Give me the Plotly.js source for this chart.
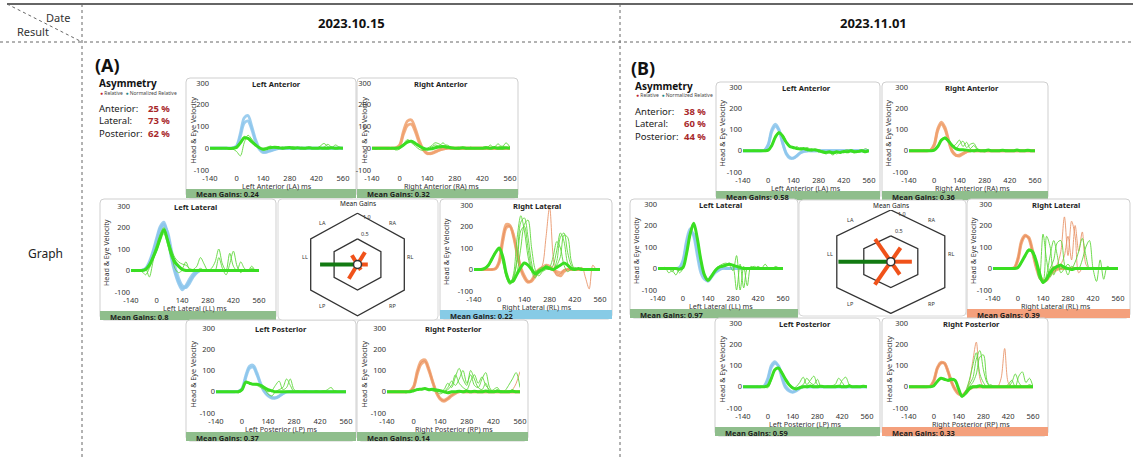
<!DOCTYPE html>
<html><head><meta charset="utf-8">
<script src="https://cdn.plot.ly/plotly-3.0.1.min.js"></script>
<style>html,body{margin:0;padding:0;background:#fff}#chart{width:1133px;height:458px}</style>
</head><body><div id="chart"></div>
<script>
// ---------------- DATA ----------------
const T = [-140,-120,-100,-80,-60,-40,-20,0,20,40,60,80,100,120,140,160,180,200,220,240,260,280,300,320,340,360,380,400,420,440,460,480,500,520,540,560];
const X_TICKS = [-140,0,140,280,420,560];
const Y_TICKS = [-100,0,100,200,300];
const DATES = ['2023.10.15','2023.11.01'];
const ASYM_LABELS = ['Anterior:','Lateral:','Posterior:'];
const ASYM_A = [25,73,62];
const ASYM_B = [38,60,44];
const HEX_LABELS = ['LA','RA','RL','RP','LP','LL'];
const GAINS_A = [0.24,0.32,0.22,0.14,0.37,0.8];
const GAINS_B = [0.58,0.36,0.39,0.33,0.59,0.97];

// (A) 2023.10.15
const A_LA_h1 = [0,0,0,0,0,0,2, 12,70,140,150,100,40,0,-15,-15,-10,-5, -2,0,0,0,0,0,0,0,0,0,0,0,0,0,0,0,0,0];
const A_LA_h2 = [0,0,0,0,0,0,1, 8,55,115,125,85,30,-5,-20,-18,-12,-6, -2,0,0,0,0,0,0,0,0,0,0,0,0,0,0,0,0,0];
const A_LA_em = [0,0,0,0,0,-1,0, 4,25,48,45,30,15,2,-5,-2,3,5, 3,0,2,3,0,2,0,0,2,0,0,1,0,0,2,0,1,0];
const A_LA_e1 = [2,-3,0,2,-2,0,-4, -15,-35,25,60,42,20,5,-8,0,8,2, -3,6,0,2,-2,4,0,-3,5,2,0,10,22,8,2,15,5,0];
const A_LA_e2 = [-2,2,0,-2,3,-2,3, 8,30,55,40,25,10,0,0,5,10,2, 5,-3,3,5,8,0,5,2,-2,3,0,2,5,18,5,-2,3,2];

const A_RA_h1 = [0,0,0,0,0,0,2, 15,80,125,130,90,35,-5,-22,-25,-18,-10, -4,0,0,0,0,0,0,0,0,0,0,0,0,0,0,0,0,0];
const A_RA_h2 = [0,0,0,0,0,0,1, 10,65,105,110,75,25,-8,-25,-22,-15,-8, -3,0,0,0,0,0,0,0,0,0,0,0,0,0,0,0,0,0];
const A_RA_em = [0,0,0,0,0,0,0, 3,15,28,32,22,10,0,-5,-3,2,6, 8,5,2,0,0,2,0,0,0,0,0,2,0,3,0,0,2,0];
const A_RA_e1 = [3,-5,2,0,-3,2,-8, -4,20,40,25,10,-5,-10,0,10,25,20, 10,15,5,0,-3,5,0,2,-2,0,3,8,0,5,20,5,25,5];
const A_RA_e2 = [-2,2,-3,3,0,-2,2, 5,10,35,30,20,5,0,-3,5,15,10, 25,8,0,2,5,0,-2,5,0,3,0,-2,15,0,5,10,2,0];

const A_LL_h1 = [0,0,0,0,10,40,90, 150,205,225,170,80,0,-50,-80,-75,-50,-25, -8,0,0,0,0,0,0,0,0,0,0,0,0,0,0,0,0,0];
const A_LL_h2 = [0,0,0,0,5,30,75, 130,185,210,180,100,20,-35,-70,-80,-60,-30, -10,0,0,0,0,0,0,0,0,0,0,0,0,0,0,0,0,0];
const A_LL_h3 = [0,0,0,2,8,35,80, 140,195,215,160,60,-10,-60,-90,-70,-40,-15, -5,0,0,0,0,0,0,0,0,0,0,0,0,0,0,0,0,0];
const A_LL_em = [0,0,0,0,5,25,60, 100,150,190,140,80,40,20,5,0,0,0, 0,0,0,0,0,0,0,0,0,0,0,0,0,0,0,0,0,0];
const A_LL_e1 = [0,-5,0,-5,-20,10,50, 90,140,195,150,100,60,40,30,25,10,5, 20,60,30,0,10,40,100,30,0,80,20,0,40,10,0,20,0,0];
const A_LL_e2 = [0,2,-3,0,10,-30,40, 110,160,170,120,60,30,20,10,40,5,0, 0,10,0,0,5,0,60,10,-20,30,90,20,-10,5,0,10,0,0];
const A_LL_e3 = [0,0,0,0,5,30,70, 120,170,200,150,80,10,-10,0,5,0,0, 0,0,0,0,0,0,0,0,0,0,0,0,0,0,0,0,0,0];

const A_RL_h1 = [0,0,0,0,0,0,5, 40,150,210,205,150,70,0,-40,-60,-50,-20, 0,10,20,15,0,-20,-30,-10,0,0,0,0,0,0,0,0,0,0];
const A_RL_h2 = [0,0,0,0,0,0,3, 30,130,195,200,160,80,10,-30,-55,-55,-30, -10,5,10,5,0,-10,-15,-5,0,0,0,0,0,0,0,0,0,0];
const A_RL_s1 = [0,0,0,0,0,0,4, 35,140,200,200,155,75,5,-35,-58,-50,-25, -5,20,150,290,60,-30,-20,0,0,0,0,0,10,-40,-90,20,0,0];
const A_RL_em = [0,0,0,5,20,50,80, 100,60,-20,-60,-50,-20,10,30,20,0,-20, -10,0,10,5,0,10,20,30,20,5,0,5,0,0,0,0,0,0];
const A_RL_e1 = [0,0,0,5,20,50,80, 95,40,-30,-60,-40,60,220,240,150,30,-30, -20,0,20,10,0,40,150,170,80,20,0,5,0,0,0,0,0,0];
const A_RL_e2 = [0,0,2,8,25,55,85, 90,30,-40,-70,-20,150,250,180,60,-10,-40, 0,10,5,0,20,90,170,130,30,0,10,0,5,0,0,0,0,0];
const A_RL_e3 = [0,0,0,4,15,40,75, 100,50,-20,-50,-60,-10,100,210,230,100,0, -30,-10,0,10,60,130,100,20,-10,0,0,0,0,0,0,0,0,0];
const A_RL_e4 = [0,0,0,5,20,45,80, 95,45,-25,-60,-30,40,180,200,100,10,-10, 0,0,5,0,0,20,60,160,150,40,0,0,0,0,0,0,0,0];

const A_LP_h1 = [0,0,0,0,0,0,2, 15,75,120,125,90,40,5,-15,-25,-28,-20, -8,0,0,0,0,0,0,0,0,0,0,0,0,0,0,0,0,0];
const A_LP_h2 = [0,0,0,0,0,0,1, 10,65,110,115,80,35,0,-20,-30,-30,-22, -10,-2,0,0,0,0,0,0,0,0,0,0,0,0,0,0,0,0];
const A_LP_em = [0,0,0,0,0,0,0, 10,45,40,35,35,30,20,10,5,0,0, 0,0,0,0,0,0,0,0,0,0,0,0,0,0,0,0,0,0];
const A_LP_e1 = [0,0,0,-2,0,0,-5, 5,50,45,38,35,28,15,-10,-20,0,10, 20,60,30,0,5,0,0,0,0,5,0,0,10,20,0,0,0,0];
const A_LP_e2 = [2,-3,0,2,0,0,3, 8,40,42,35,30,20,10,0,5,30,50, 10,20,60,10,0,0,5,0,0,0,0,5,0,0,5,0,0,0];

const A_RP_h1 = [0,0,0,0,0,0,3, 25,100,145,150,110,50,0,-30,-40,-30,-15, -5,0,0,0,0,0,0,0,0,0,0,0,0,0,0,0,0,0];
const A_RP_h2 = [0,0,0,0,0,0,2, 20,85,130,140,100,45,-5,-35,-45,-35,-20, -8,0,0,0,0,0,0,0,0,0,0,0,0,0,0,0,0,0];
const A_RP_s1 = [0,0,0,0,0,0,3, 22,92,138,145,105,48,-2,-32,-42,-32,-18, -6,0,0,0,0,0,0,0,0,0,0,0,0,0,0,10,40,95];
const A_RP_em = [0,0,0,0,0,0,0, 5,10,12,15,10,12,8,5,0,-5, 0,0,2,0,3,0,2,0,0,3,0,0,2,0,0,0,2,0,0];
const A_RP_e1 = [0,0,0,0,-2,0,0, 5,15,10,12,15,5,0,-10,0,20,50, 30,60,100,40,80,30,20,60,90,20,0,10,0,0,5,0,0,0];
const A_RP_e2 = [0,0,0,0,0,0,3, 5,10,15,12,8,10,5,0,10,40,20, 70,110,60,30,100,60,20,10,40,0,10,20,0,5,30,60,90,20];
const A_RP_e3 = [0,0,2,0,0,-5,0, 3,8,15,15,10,5,3,0,0,10,30, 80,40,20,10,50,80,40,70,30,10,0,0,5,0,0,10,0,0];

// (B) 2023.11.01
const B_LA_h1 = [0,0,0,0,0,0,3, 30,100,125,100,40,-10,-30,-35,-25,-10,-3, 0,0,0,0,0,0,0,0,0,0,0,0,0,0,0,0,0,0];
const B_LA_h2 = [0,0,0,0,0,0,2, 25,90,115,95,35,-15,-35,-35,-22,-8,-2, 0,0,0,0,0,0,0,0,0,0,0,0,0,0,0,0,0,0];
const B_LA_em = [0,0,0,0,0,0,0, 3,25,65,85,70,40,20,15,10,8,10, 5,3,5,0,-5,-8,-5,-10,-5,-8,-3,-5,0,-5,-3,0,-5,0];
const B_LA_e1 = [2,-2,0,3,0,-2,0, 5,30,70,90,60,35,25,10,20,5,10, 15,0,5,-5,-3,-15,-10,-20,-5,-10,0,5,-5,-10,0,5,0,0];
const B_LA_e2 = [0,2,-2,0,2,0,-3, 2,20,60,80,75,45,15,20,5,15,5, 0,10,0,5,0,-5,-10,-5,-15,-5,-10,0,5,0,-8,-3,10,0];

const B_RA_h1 = [0,0,0,0,0,0,3, 30,105,135,110,50,0,-20,-25,-15,-5,0, 0,0,0,0,0,0,0,0,0,0,0,0,0,0,0,0,0,0];
const B_RA_h2 = [0,0,0,0,0,0,2, 25,95,125,100,45,-5,-22,-20,-12,-5,0, 0,0,0,0,0,0,0,0,0,0,0,0,0,0,0,0,0,0];
const B_RA_em = [0,0,0,0,0,0,0, 3,20,50,60,45,25,10,5,5,3,0, 0,2,0,0,3,0,0,0,2,0,0,0,3,0,0,2,0,0];
const B_RA_e1 = [0,2,-2,0,0,2,0, 5,25,55,55,40,20,30,50,20,40,10, 25,5,0,5,0,-3,0,0,0,5,0,0,0,2,0,0,0,0];
const B_RA_e2 = [0,0,0,-2,2,0,0, 2,15,45,65,50,20,10,30,45,15,30, 35,10,0,-5,5,0,0,0,3,0,0,0,5,0,0,0,0,0];

const B_LL_h1 = [0,0,0,0,0,0,5, 40,130,185,150,60,-20,-50,-55,-35,-15,-5, 0,0,0,0,0,0,0,0,0,0,0,0,0,0,0,0,0,0];
const B_LL_h2 = [0,0,0,0,0,0,3, 30,115,170,160,80,0,-40,-60,-40,-20,-8, 0,0,0,0,0,0,0,0,0,0,0,0,0,0,0,0,0,0];
const B_LL_em = [0,0,0,0,0,0,-3, 5,70,160,210,140,40,-30,-55,-35,-10,5, 10,15,20,15,10,5,0,0,0,0,0,0,0,0,0,0,0,0];
const B_LL_e1 = [0,0,5,-20,-10,-30,0, 10,80,170,200,130,30,-40,-60,-30,-5,10, 15,20,25,10,-100,20,-90,0,5,10,0,0,20,0,0,0,0,0];
const B_LL_e2 = [0,0,0,0,-15,5,-20, 0,60,150,205,150,50,-25,-50,-40,-10,10, 20,25,15,-10,60,-100,10,-80,10,0,10,0,5,0,0,10,0,0];

const B_RL_h1 = [0,0,0,0,0,0,5, 50,130,155,140,80,10,-40,-60,-50,-25,-10, 0,0,0,0,0,0,0,0,0,0,0,0,0,0,0,0,0,0];
const B_RL_h2 = [0,0,0,0,0,0,3, 40,120,150,145,90,20,-30,-55,-55,-30,-15, -5,0,0,0,0,0,0,0,0,0,0,0,0,0,0,0,0,0];
const B_RL_s1 = [0,0,0,0,0,0,4, 45,125,152,142,85,15,-35,-58,-50,-20,0, 20,80,240,60,220,150,-20,0,0,0,0,0,0,0,0,0,0,0];
const B_RL_s2 = [0,0,0,0,0,0,4, 45,125,152,142,85,15,-35,-58,-45,-10,10, 0,20,60,150,40,200,80,170,20,0,0,0,0,0,0,0,0,0];
const B_RL_em = [0,0,0,0,0,0,0, 5,30,60,85,80,40,-20,-65,-50,-20,0, 10,15,5,0,-5,0,0,0,0,0,0,0,0,0,0,0,0,0];
const B_RL_e1 = [0,2,0,-2,0,3,0, 8,35,65,90,70,20,-40,160,40,-40,0, 10,0,5,0,0,0,0,0,0,0,0,0,0,0,0,0,0,0];
const B_RL_e2 = [0,0,2,0,0,-2,0, 6,30,60,80,75,30,-50,-60,150,100,-30, 10,20,0,0,0,0,0,0,0,0,0,0,0,0,0,0,0,0];
const B_RL_e3 = [0,0,0,0,3,0,0, 4,25,55,90,80,35,-30,-70,-30,60,130, 60,-20,0,20,0,30,80,140,60,0,0,0,0,0,0,0,0,0];
const B_RL_e4 = [0,0,0,2,0,0,-2, 5,28,58,85,70,25,-45,-65,-40,0,40, 120,130,20,-30,10,0,0,40,100,130,0,-60,40,-50,10,0,0,0];

const B_LP_h1 = [0,0,0,0,0,0,5, 40,100,118,95,40,-5,-20,-25,-15,-5,0, 0,0,0,0,0,0,0,0,0,0,0,0,0,0,0,0,0,0];
const B_LP_h2 = [0,0,0,0,0,0,3, 30,90,110,100,50,5,-15,-25,-20,-8,0, 0,0,0,0,0,0,0,0,0,0,0,0,0,0,0,0,0,0];
const B_LP_em = [0,0,0,0,0,0,0, 5,40,80,88,65,35,10,-5,-10,-5,0, 0,3,0,0,2,0,0,0,0,2,0,0,3,0,0,0,2,0];
const B_LP_e1 = [0,0,0,0,0,2,0, 3,35,75,85,60,30,5,-10,0,20,45, 10,30,50,10,0,0,0,5,10,40,20,0,10,0,0,0,0,0];
const B_LP_e2 = [0,0,0,0,2,0,0, -5,30,78,90,70,40,15,0,-15,0,10, 40,20,10,35,0,0,5,0,0,0,30,45,10,0,5,0,0,0];

const B_RP_h1 = [0,0,0,0,0,0,3, 30,90,115,110,70,20,-15,-35,-40,-25,-10, 0,0,0,0,0,0,0,0,0,0,0,0,0,0,0,0,0,0];
const B_RP_h2 = [0,0,0,0,0,0,2, 25,85,110,112,75,25,-10,-30,-42,-30,-12, -3,0,0,0,0,0,0,0,0,0,0,0,0,0,0,0,0,0];
const B_RP_s1 = [0,0,0,0,0,0,3, 28,88,112,110,72,22,-12,-33,-40,-20,20, 120,210,40,0,0,0,0,0,0,0,0,0,0,0,0,0,0,0];
const B_RP_s2 = [0,0,0,0,0,0,3, 28,88,112,110,72,22,-12,-33,-40,-20,0, 0,0,0,0,0,0,0,0,40,180,20,0,0,0,0,0,0,0];
const B_RP_em = [0,0,0,0,0,0,0, 5,25,40,35,30,35,30,-10,-45,-30,-10, 0,0,5,0,0,0,0,0,0,0,0,0,0,0,0,0,0,0];
const B_RP_e1 = [0,2,0,-3,0,0,0, 5,28,42,30,35,40,25,-15,-50,-20,30, 100,160,60,20,0,10,0,0,0,0,0,0,0,0,0,0,0,0];
const B_RP_e2 = [0,0,0,0,2,0,-2, 3,20,38,40,25,30,28,-5,-40,-30,10, 40,130,170,80,20,0,0,0,0,0,0,20,60,20,0,0,10,0];
const B_RP_e3 = [0,0,2,0,0,0,0, 4,22,40,35,32,38,30,-10,-45,-25,0, 20,60,140,150,30,0,0,0,0,0,10,30,0,50,70,20,40,0];

// ---------------- STYLE / LAYOUT ----------------
const W = 1133, H = 458;
const FONT = 'Noto Sans, Open Sans, Arial, sans-serif';
const COL = {
  blue:'rgba(140,198,236,0.85)', orange:'rgba(240,160,108,0.85)',
  blueThin:'rgba(140,198,236,0.95)', orangeThin:'rgba(232,145,100,0.85)',
  eye:'#3ade22', eyeThin:'rgba(95,215,60,0.9)',
  barGreen:'#8fbe8c', barBlue:'#87cbe6', barSalmon:'#f4a07c',
  hexGreen:'#127a12', hexOrange:'#f0521a', val:'#a8282a'
};
const P = x => x / W, Q = y => 1 - y / H;
const traces = [], shapes = [], annotations = [];
const layout = {width:W, height:H, margin:{l:0,r:0,t:0,b:0}, paper_bgcolor:'#ffffff',
  plot_bgcolor:'rgba(0,0,0,0)', showlegend:false, font:{family:FONT, color:'#222'}, shapes, annotations};
let axisCount = 0;
function newAxes(){ axisCount++; const s = axisCount===1?'':String(axisCount);
  return {xa:'x'+s, ya:'y'+s, xk:'xaxis'+s, yk:'yaxis'+s}; }
function txt(x, y, text, size, color, extra){
  const o = Object.assign({xref:'paper', yref:'paper', x:P(x), y:Q(y), text, showarrow:false,
    xanchor:'center', yanchor:'middle', font:{family:FONT, size:size||8, color:color||'#222'}}, extra||{});
  annotations.push(o);
}
function roundRect(x0,y0,x1,y1,r){
  const p=(x,y)=>P(x)+','+Q(y);
  return `M${p(x0+r,y0)} L${p(x1-r,y0)} Q${p(x1,y0)} ${p(x1,y0+r)} L${p(x1,y1-r)} Q${p(x1,y1)} ${p(x1-r,y1)} L${p(x0+r,y1)} Q${p(x0,y1)} ${p(x0,y1-r)} L${p(x0,y0+r)} Q${p(x0,y0)} ${p(x0+r,y0)} Z`;
}
function line(x0,y0,x1,y1,color,width,dash){
  shapes.push({type:'line', xref:'paper', yref:'paper', x0:P(x0), y0:Q(y0), x1:P(x1), y1:Q(y1),
    line:{color, width, dash:dash||'solid'}, layer:'above'});
}
function addLines(ax, arrs, color, width){
  arrs.forEach(a => traces.push({type:'scatter', mode:'lines', x:T, y:a, xaxis:ax.xa, yaxis:ax.ya,
    line:{color, width, shape:'spline', smoothing:0.9}, hoverinfo:'skip', showlegend:false}));
}

function addChart(c){
  const ax = newAxes();
  const [bx0, bx1, by0] = c.box;
  const [x0, x1, y0, y1] = c.plot;
  const barTop = y1 + 19, barBot = y1 + 28;
  shapes.push({type:'path', path:roundRect(bx0, by0, bx1, barBot, 4), xref:'paper', yref:'paper',
    fillcolor:'#ffffff', line:{color:'#cfcfcf', width:1}, layer:'below'});
  shapes.push({type:'rect', xref:'paper', yref:'paper', x0:P(bx0), x1:P(bx1), y0:Q(barBot), y1:Q(barTop),
    fillcolor:c.barColor, line:{width:0}, layer:'below'});
  txt(bx0 + 8, (barTop + barBot)/2 + 1, '<b>Mean Gains: ' + c.gain + '</b>', 7.5, '#1e1e1e', {xanchor:'left'});
  const tickFont = {family:FONT, size:7.5, color:'#333'};
  layout[ax.xk] = {domain:[P(x0), P(x1)], range:[-140,560], anchor:ax.ya, tickmode:'array',
    tickvals:X_TICKS, ticktext:X_TICKS.map(String), showgrid:false, zeroline:false, showline:false,
    ticks:'', tickfont:tickFont, fixedrange:true, ticklabelstandoff:2};
  layout[ax.yk] = {domain:[Q(y1), Q(y0)], range:[-100,300], anchor:ax.xa, tickmode:'array',
    tickvals:Y_TICKS, ticktext:Y_TICKS.map(String), showgrid:false, zeroline:false, showline:false,
    ticks:'', tickfont:tickFont, fixedrange:true};
  const headCol = c.side === 'L' ? COL.blue : COL.orange;
  const headThinCol = c.side === 'L' ? COL.blueThin : COL.orangeThin;
  addLines(ax, c.head, headCol, 2.8);
  addLines(ax, c.headThin, headThinCol, 1);
  addLines(ax, c.eyes, COL.eyeThin, 1);
  addLines(ax, [c.eyeMean], COL.eye, 3);
  txt((x0+x1)/2, y0 + 1, '<b>' + c.title + '</b>', 7.5, '#1e1e1e');
  txt((x0+x1)/2, y1 + 15.5, c.xtitle, 7.2, '#333');
  txt(bx0 + 6, (y0+y1)/2 + 4, 'Head &amp; Eye Velocity', 7.2, '#333', {textangle:-90});
}

function addHex(h, gains){
  const ax = newAxes();
  const [bx0, by0, bx1, by1] = h.box;
  shapes.push({type:'path', path:roundRect(bx0, by0, bx1, by1, 4), xref:'paper', yref:'paper',
    fillcolor:'#ffffff', line:{color:'#d8d8d8', width:1}, layer:'below'});
  const sx = h.ap, sy = h.vr / (1/Math.cos(Math.PI/6));
  const dx0 = bx0 + 6, dx1 = bx1 - 6, dy0 = by0 + 10, dy1 = by1 - 2;
  layout[ax.xk] = {domain:[P(dx0), P(dx1)], range:[(dx0-h.cx)/sx, (dx1-h.cx)/sx], anchor:ax.ya, visible:false, fixedrange:true};
  layout[ax.yk] = {domain:[Q(dy1), Q(dy0)], range:[(h.cy-dy1)/sy, (h.cy-dy0)/sy], anchor:ax.xa, visible:false, fixedrange:true};
  [1.0, 0.5].forEach(s => {
    const R = s / Math.cos(Math.PI/6), xs = [], ys = [];
    for (let k = 0; k <= 6; k++){ const a = (90 - 60*k) * Math.PI/180; xs.push(R*Math.cos(a)); ys.push(R*Math.sin(a)); }
    traces.push({type:'scatter', mode:'lines', x:xs, y:ys, xaxis:ax.xa, yaxis:ax.ya,
      line:{color:'#333', width:1.3}, hoverinfo:'skip', showlegend:false});
  });
  const angles = [120, 60, 0, -60, -120, 180];
  gains.forEach((g, i) => {
    const a = angles[i] * Math.PI/180;
    traces.push({type:'scatter', mode:'lines', x:[0, g*Math.cos(a)], y:[0, g*Math.sin(a)], xaxis:ax.xa, yaxis:ax.ya,
      line:{color: g >= 0.7 ? COL.hexGreen : COL.hexOrange, width:4}, hoverinfo:'skip', showlegend:false});
    const horiz = Math.abs(Math.cos(a)) > 0.9;
    annotations.push({xref:ax.xa, yref:ax.ya, x: horiz ? 1.12*Math.cos(a) : 1.5*Math.cos(a),
      y: horiz ? 0.17 : 1.08*Math.sin(a), text:HEX_LABELS[i], showarrow:false,
      font:{family:FONT, size:5.5, color:'#333'}});
  });
  traces.push({type:'scatter', mode:'markers', x:[0], y:[0], xaxis:ax.xa, yaxis:ax.ya,
    marker:{size:8, color:'#fff', line:{color:'#333', width:1.5}}, hoverinfo:'skip', showlegend:false});
  annotations.push({xref:ax.xa, yref:ax.ya, x:0.2, y:1.07, text:'1.0', showarrow:false, font:{family:FONT, size:5.5, color:'#333'}});
  annotations.push({xref:ax.xa, yref:ax.ya, x:0.15, y:0.69, text:'0.5', showarrow:false, font:{family:FONT, size:5.5, color:'#333'}});
  txt(h.cx, by0 + 5, 'Mean Gains', 6.5, '#222');
}

function addAsym(x, y, letter, vals){
  txt(x - 4, y - 19, '<b>(' + letter + ')</b>', 18, '#111', {xanchor:'left'});
  txt(x, y - 1, '<b>Asymmetry</b>', 10, '#111', {xanchor:'left'});
  txt(x + 1, y + 8.5, '<span style="color:#c0262d">●</span> Relative  <span style="color:#1f8a8a">●</span> Normalized Relative', 5, '#444', {xanchor:'left'});
  txt(x, y + 37, ASYM_LABELS.join('<br>'), 9.5, '#222', {xanchor:'left', align:'left'});
  txt(x + 49, y + 37, vals.map(v => '<b>' + v + ' %</b>').join('<br>'), 9.5, COL.val, {xanchor:'left', align:'left'});
}

// table frame
line(7, 4, W, 4, '#333', 1.6);
line(0, 42, W, 42, '#666', 1, 'dot');
line(82, 4, 82, H, '#666', 1, 'dot');
line(620, 4, 620, H, '#666', 1, 'dot');
line(7, 4, 82, 42, '#666', 1, 'dot');
txt(58, 17, 'Date', 11, '#333');
txt(33, 32, 'Result', 11, '#333');
txt(351, 23, '<b>' + DATES[0] + '</b>', 13, '#111');
txt(873, 23, '<b>' + DATES[1] + '</b>', 13, '#111');
txt(45, 253, 'Graph', 12, '#222');

addAsym(97, 84, 'A', ASYM_A);
addAsym(633, 87, 'B', ASYM_B);

const CHARTS = [
  {title:'Left Anterior', xtitle:'Left Anterior (LA) ms', side:'L', box:[186,356,78], plot:[210,343,83,170], gain:GAINS_A[0], barColor:COL.barGreen, head:[A_LA_h1,A_LA_h2], headThin:[], eyes:[A_LA_e1,A_LA_e2], eyeMean:A_LA_em},
  {title:'Right Anterior', xtitle:'Right Anterior (RA) ms', side:'R', box:[357,518,78], plot:[372,510,83,170], gain:GAINS_A[1], barColor:COL.barGreen, head:[A_RA_h1,A_RA_h2], headThin:[], eyes:[A_RA_e1,A_RA_e2], eyeMean:A_RA_em},
  {title:'Left Lateral', xtitle:'Left Lateral (LL) ms', side:'L', box:[100,276,199], plot:[131,259,206,292], gain:GAINS_A[5], barColor:COL.barGreen, head:[A_LL_h1,A_LL_h2,A_LL_h3], headThin:[], eyes:[A_LL_e1,A_LL_e2,A_LL_e3], eyeMean:A_LL_em},
  {title:'Right Lateral', xtitle:'Right Lateral (RL) ms', side:'R', box:[440,612,199], plot:[474,600,205,291], gain:GAINS_A[2], barColor:COL.barBlue, head:[A_RL_h1,A_RL_h2], headThin:[A_RL_s1], eyes:[A_RL_e1,A_RL_e2,A_RL_e3,A_RL_e4], eyeMean:A_RL_em},
  {title:'Left Posterior', xtitle:'Left Posterior (LP) ms', side:'L', box:[186,356,320], plot:[216,346,328,413], gain:GAINS_A[4], barColor:COL.barGreen, head:[A_LP_h1,A_LP_h2], headThin:[], eyes:[A_LP_e1,A_LP_e2], eyeMean:A_LP_em},
  {title:'Right Posterior', xtitle:'Right Posterior (RP) ms', side:'R', box:[357,528,320], plot:[387,520,328,413], gain:GAINS_A[3], barColor:COL.barGreen, head:[A_RP_h1,A_RP_h2], headThin:[A_RP_s1], eyes:[A_RP_e1,A_RP_e2,A_RP_e3], eyeMean:A_RP_em},
  {title:'Left Anterior', xtitle:'Left Anterior (LA) ms', side:'L', box:[716,880,82], plot:[743,869,87,172], gain:GAINS_B[0], barColor:COL.barGreen, head:[B_LA_h1,B_LA_h2], headThin:[], eyes:[B_LA_e1,B_LA_e2], eyeMean:B_LA_em},
  {title:'Right Anterior', xtitle:'Right Anterior (RA) ms', side:'R', box:[882,1048,82], plot:[909,1035,87,172], gain:GAINS_B[1], barColor:COL.barGreen, head:[B_RA_h1,B_RA_h2], headThin:[], eyes:[B_RA_e1,B_RA_e2], eyeMean:B_RA_em},
  {title:'Left Lateral', xtitle:'Left Lateral (LL) ms', side:'L', box:[630,798,199], plot:[658,783,204,290], gain:GAINS_B[5], barColor:COL.barGreen, head:[B_LL_h1,B_LL_h2], headThin:[], eyes:[B_LL_e1,B_LL_e2], eyeMean:B_LL_em},
  {title:'Right Lateral', xtitle:'Right Lateral (RL) ms', side:'R', box:[967,1130,199], plot:[993,1118,204,290], gain:GAINS_B[2], barColor:COL.barSalmon, head:[B_RL_h1,B_RL_h2], headThin:[B_RL_s1,B_RL_s2], eyes:[B_RL_e1,B_RL_e2,B_RL_e3,B_RL_e4], eyeMean:B_RL_em},
  {title:'Left Posterior', xtitle:'Left Posterior (LP) ms', side:'L', box:[715,880,318], plot:[743,867,323,408], gain:GAINS_B[4], barColor:COL.barGreen, head:[B_LP_h1,B_LP_h2], headThin:[], eyes:[B_LP_e1,B_LP_e2], eyeMean:B_LP_em},
  {title:'Right Posterior', xtitle:'Right Posterior (RP) ms', side:'R', box:[882,1048,318], plot:[909,1033,323,408], gain:GAINS_B[3], barColor:COL.barSalmon, head:[B_RP_h1,B_RP_h2], headThin:[B_RP_s1,B_RP_s2], eyes:[B_RP_e1,B_RP_e2,B_RP_e3], eyeMean:B_RP_em}
];
CHARTS.forEach(addChart);
addHex({cx:357.5, cy:264.5, ap:46.8, vr:51.2, box:[278,199,438,320]}, GAINS_A);
addHex({cx:890.8, cy:261.7, ap:54, vr:51.7, box:[799,200,966,316]}, GAINS_B);

Plotly.newPlot('chart', traces, layout, {staticPlot:true, displayModeBar:false});
</script>
</body></html>
